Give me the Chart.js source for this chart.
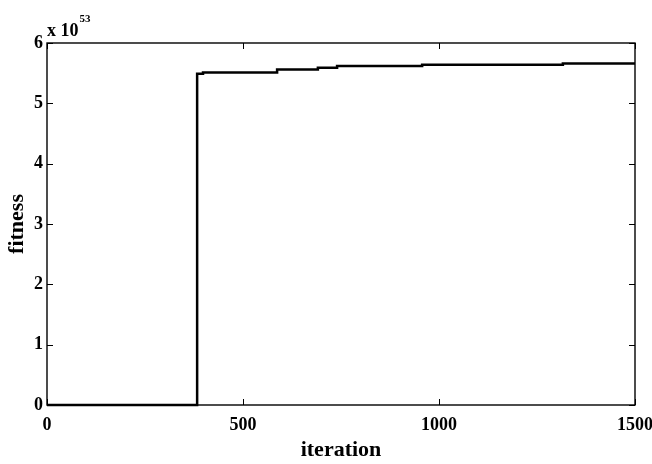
<!DOCTYPE html>
<html>
<head>
<meta charset="utf-8">
<script src="https://cdn.jsdelivr.net/npm/chart.js@4/dist/chart.umd.min.js"></script>
<style>
  html, body { margin: 0; padding: 0; background: #fff; }
  #chart { display: block; }
</style>
</head>
<body>
<canvas id="chart" width="652" height="464"></canvas>
<script>
// data (fitness dalam satuan 10^53)
const iterations = [0, 383, 398, 587, 691, 740, 957, 1316, 1500];
const fitness = [0, 5.49, 5.51, 5.56, 5.59, 5.62, 5.64, 5.66, 5.66];
const exponent = 53;
const xTicks = [0, 500, 1000, 1500];
const yTicks = [0, 1, 2, 3, 4, 5, 6];

const serif = '"Liberation Serif", "Times New Roman", serif';

// Plugin untuk kotak sumbu, tick ke dalam, dan label eksponen
const boxPlugin = {
    id: 'boxPlugin',
    afterDraw(chart) {
        const ctx = chart.ctx;
        const a = chart.chartArea;
        const xs = chart.scales.x;
        const ys = chart.scales.y;
        const len = 6;
        ctx.save();
        ctx.strokeStyle = '#000';
        ctx.lineWidth = 1.4;
        ctx.strokeRect(a.left, a.top, a.right - a.left, a.bottom - a.top);
        ctx.lineWidth = 1;
        ctx.beginPath();
        xTicks.forEach(v => {
            const px = Math.round(xs.getPixelForValue(v)) + 0.5;
            ctx.moveTo(px, a.bottom); ctx.lineTo(px, a.bottom - len);
            ctx.moveTo(px, a.top); ctx.lineTo(px, a.top + len);
        });
        yTicks.forEach(v => {
            const py = Math.round(ys.getPixelForValue(v)) + 0.5;
            ctx.moveTo(a.left, py); ctx.lineTo(a.left + len, py);
            ctx.moveTo(a.right, py); ctx.lineTo(a.right - len, py);
        });
        ctx.stroke();

        // label "x 10^53"
        ctx.fillStyle = '#000';
        ctx.textBaseline = 'alphabetic';
        ctx.textAlign = 'left';
        ctx.font = 'bold 18px ' + serif;
        ctx.fillText('x 10', a.left, a.top - 7);
        const w = ctx.measureText('x 10').width;
        ctx.font = 'bold 11px ' + serif;
        ctx.fillText(String(exponent), a.left + w + 1, a.top - 21);
        ctx.restore();
    }
};

const ctx = document.getElementById('chart').getContext('2d');
new Chart(ctx, {
    type: 'scatter',
    data: {
        datasets: [{
            label: 'fitness',
            data: iterations.map((x, i) => ({ x: x, y: fitness[i] })),
            showLine: true,
            stepped: 'before',
            borderColor: '#000',
            borderWidth: 2.5,
            pointRadius: 0,
            fill: false,
            clip: 4
        }]
    },
    options: {
        responsive: false,
        animation: false,
        devicePixelRatio: 1,
        layout: {
            padding: { left: 0, right: 17, top: 43, bottom: 0 }
        },
        plugins: {
            legend: { display: false },
            tooltip: { enabled: false }
        },
        scales: {
            x: {
                type: 'linear',
                min: 0,
                max: 1500,
                afterFit: s => { s.height = 59; s.paddingLeft = 0; s.paddingRight = 0; },
                afterBuildTicks: s => { s.ticks = xTicks.map(v => ({ value: v })); },
                grid: { display: false, drawTicks: false },
                border: { display: false },
                ticks: {
                    color: '#000',
                    padding: 10,
                    callback: v => String(v),
                    font: { family: serif, size: 18, weight: 'bold' }
                },
                title: {
                    display: true,
                    text: 'iteration',
                    color: '#000',
                    padding: { top: 0, bottom: 0 },
                    font: { family: serif, size: 22, weight: 'bold' }
                }
            },
            y: {
                type: 'linear',
                min: 0,
                max: 6,
                afterFit: s => { s.width = 47; s.paddingTop = 0; s.paddingBottom = 0; },
                afterBuildTicks: s => { s.ticks = yTicks.map(v => ({ value: v })); },
                grid: { display: false, drawTicks: false },
                border: { display: false },
                ticks: {
                    color: '#000',
                    padding: 4,
                    callback: v => String(v),
                    font: { family: serif, size: 18, weight: 'bold' }
                },
                title: {
                    display: true,
                    text: 'fitness',
                    color: '#000',
                    padding: { top: 4, bottom: 0 },
                    font: { family: serif, size: 22, weight: 'bold' }
                }
            }
        }
    },
    plugins: [boxPlugin]
});
</script>
</body>
</html>
